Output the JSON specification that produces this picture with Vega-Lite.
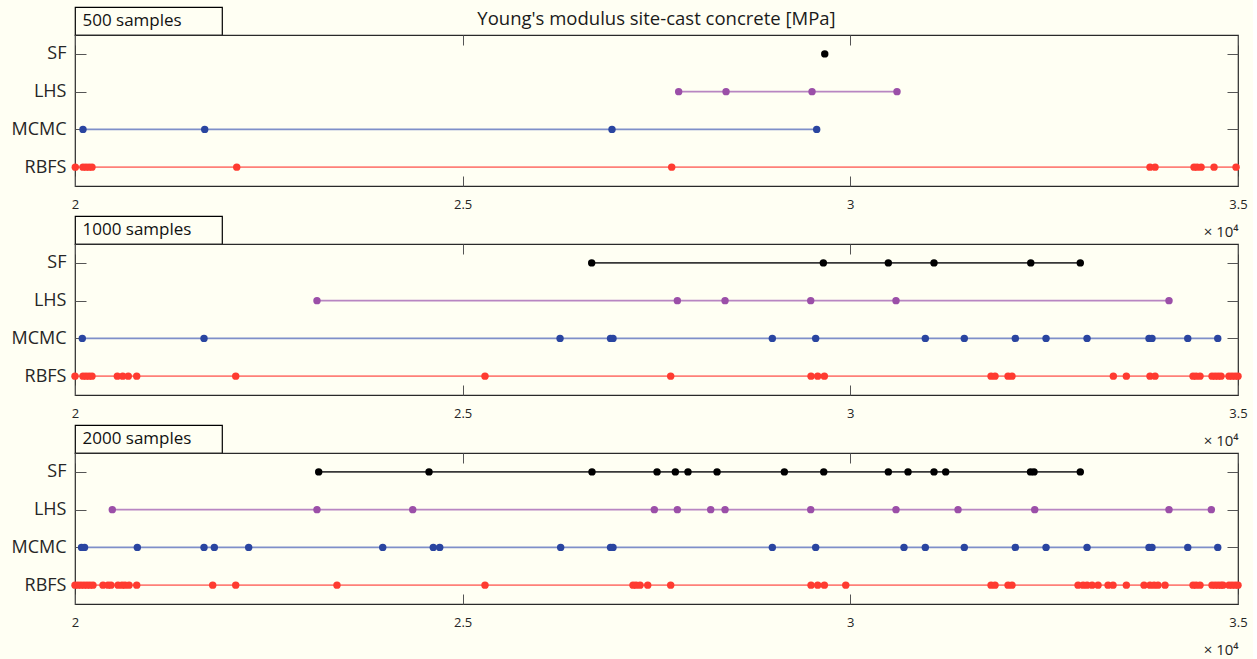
{
  "$schema": "https://vega.github.io/schema/vega-lite/v6.json",
  "background": "#fffff3",
  "padding": {"left": 10, "top": 6, "right": 5, "bottom": 2},
  "config": {
    "font": "Open Sans",
    "view": {"stroke": "#2a2a2a", "strokeWidth": 1.2},
    "axis": {"labelFont": "Open Sans", "titleFont": "Open Sans", "labelColor": "#262626", "titleColor": "#262626", "tickColor": "#555555", "grid": false, "domain": false}
  },
  "datasets": {
    "d": [
      {"n": 500, "m": "SF", "E": 29670},
      {"n": 500, "m": "LHS", "E": 27786}, {"n": 500, "m": "LHS", "E": 28397}, {"n": 500, "m": "LHS", "E": 29506}, {"n": 500, "m": "LHS", "E": 30602},
      {"n": 500, "m": "MCMC", "E": 20103}, {"n": 500, "m": "MCMC", "E": 21673}, {"n": 500, "m": "MCMC", "E": 26926}, {"n": 500, "m": "MCMC", "E": 29566},
      {"n": 500, "m": "RBFS", "E": 20004}, {"n": 500, "m": "RBFS", "E": 20103}, {"n": 500, "m": "RBFS", "E": 20142}, {"n": 500, "m": "RBFS", "E": 20181}, {"n": 500, "m": "RBFS", "E": 20219}, {"n": 500, "m": "RBFS", "E": 22086}, {"n": 500, "m": "RBFS", "E": 27696}, {"n": 500, "m": "RBFS", "E": 33865}, {"n": 500, "m": "RBFS", "E": 33930}, {"n": 500, "m": "RBFS", "E": 34433}, {"n": 500, "m": "RBFS", "E": 34472}, {"n": 500, "m": "RBFS", "E": 34524}, {"n": 500, "m": "RBFS", "E": 34691}, {"n": 500, "m": "RBFS", "E": 34975},

      {"n": 1000, "m": "SF", "E": 26664}, {"n": 1000, "m": "SF", "E": 29652}, {"n": 1000, "m": "SF", "E": 30490}, {"n": 1000, "m": "SF", "E": 31079}, {"n": 1000, "m": "SF", "E": 32327}, {"n": 1000, "m": "SF", "E": 32966},
      {"n": 1000, "m": "LHS", "E": 23121}, {"n": 1000, "m": "LHS", "E": 27769}, {"n": 1000, "m": "LHS", "E": 28384}, {"n": 1000, "m": "LHS", "E": 29489}, {"n": 1000, "m": "LHS", "E": 30589}, {"n": 1000, "m": "LHS", "E": 34110},
      {"n": 1000, "m": "MCMC", "E": 20094}, {"n": 1000, "m": "MCMC", "E": 21664}, {"n": 1000, "m": "MCMC", "E": 26256}, {"n": 1000, "m": "MCMC", "E": 26907}, {"n": 1000, "m": "MCMC", "E": 26939}, {"n": 1000, "m": "MCMC", "E": 28994}, {"n": 1000, "m": "MCMC", "E": 29553}, {"n": 1000, "m": "MCMC", "E": 30967}, {"n": 1000, "m": "MCMC", "E": 31470}, {"n": 1000, "m": "MCMC", "E": 32128}, {"n": 1000, "m": "MCMC", "E": 32524}, {"n": 1000, "m": "MCMC", "E": 33053}, {"n": 1000, "m": "MCMC", "E": 33852}, {"n": 1000, "m": "MCMC", "E": 33891}, {"n": 1000, "m": "MCMC", "E": 34352}, {"n": 1000, "m": "MCMC", "E": 34739},
      {"n": 1000, "m": "RBFS", "E": 20000}, {"n": 1000, "m": "RBFS", "E": 20103}, {"n": 1000, "m": "RBFS", "E": 20142}, {"n": 1000, "m": "RBFS", "E": 20181}, {"n": 1000, "m": "RBFS", "E": 20219}, {"n": 1000, "m": "RBFS", "E": 20546}, {"n": 1000, "m": "RBFS", "E": 20615}, {"n": 1000, "m": "RBFS", "E": 20687}, {"n": 1000, "m": "RBFS", "E": 20796}, {"n": 1000, "m": "RBFS", "E": 22073}, {"n": 1000, "m": "RBFS", "E": 25288}, {"n": 1000, "m": "RBFS", "E": 27683}, {"n": 1000, "m": "RBFS", "E": 29493}, {"n": 1000, "m": "RBFS", "E": 29579}, {"n": 1000, "m": "RBFS", "E": 29665}, {"n": 1000, "m": "RBFS", "E": 31815}, {"n": 1000, "m": "RBFS", "E": 31866}, {"n": 1000, "m": "RBFS", "E": 32034}, {"n": 1000, "m": "RBFS", "E": 32085}, {"n": 1000, "m": "RBFS", "E": 33392}, {"n": 1000, "m": "RBFS", "E": 33560}, {"n": 1000, "m": "RBFS", "E": 33865}, {"n": 1000, "m": "RBFS", "E": 33930}, {"n": 1000, "m": "RBFS", "E": 34420}, {"n": 1000, "m": "RBFS", "E": 34459}, {"n": 1000, "m": "RBFS", "E": 34510}, {"n": 1000, "m": "RBFS", "E": 34665}, {"n": 1000, "m": "RBFS", "E": 34704}, {"n": 1000, "m": "RBFS", "E": 34743}, {"n": 1000, "m": "RBFS", "E": 34781}, {"n": 1000, "m": "RBFS", "E": 34884}, {"n": 1000, "m": "RBFS", "E": 34923}, {"n": 1000, "m": "RBFS", "E": 34962}, {"n": 1000, "m": "RBFS", "E": 35000},

      {"n": 2000, "m": "SF", "E": 23143}, {"n": 2000, "m": "SF", "E": 24566}, {"n": 2000, "m": "SF", "E": 26668}, {"n": 2000, "m": "SF", "E": 27507}, {"n": 2000, "m": "SF", "E": 27743}, {"n": 2000, "m": "SF", "E": 27906}, {"n": 2000, "m": "SF", "E": 28281}, {"n": 2000, "m": "SF", "E": 29149}, {"n": 2000, "m": "SF", "E": 29657}, {"n": 2000, "m": "SF", "E": 30490}, {"n": 2000, "m": "SF", "E": 30744}, {"n": 2000, "m": "SF", "E": 31079}, {"n": 2000, "m": "SF", "E": 31230}, {"n": 2000, "m": "SF", "E": 32324}, {"n": 2000, "m": "SF", "E": 32369}, {"n": 2000, "m": "SF", "E": 32966},
      {"n": 2000, "m": "LHS", "E": 20481}, {"n": 2000, "m": "LHS", "E": 23121}, {"n": 2000, "m": "LHS", "E": 24356}, {"n": 2000, "m": "LHS", "E": 27472}, {"n": 2000, "m": "LHS", "E": 27769}, {"n": 2000, "m": "LHS", "E": 28199}, {"n": 2000, "m": "LHS", "E": 28384}, {"n": 2000, "m": "LHS", "E": 29489}, {"n": 2000, "m": "LHS", "E": 30589}, {"n": 2000, "m": "LHS", "E": 31389}, {"n": 2000, "m": "LHS", "E": 32378}, {"n": 2000, "m": "LHS", "E": 34110}, {"n": 2000, "m": "LHS", "E": 34656},
      {"n": 2000, "m": "MCMC", "E": 20084}, {"n": 2000, "m": "MCMC", "E": 20123}, {"n": 2000, "m": "MCMC", "E": 20804}, {"n": 2000, "m": "MCMC", "E": 21664}, {"n": 2000, "m": "MCMC", "E": 21797}, {"n": 2000, "m": "MCMC", "E": 22240}, {"n": 2000, "m": "MCMC", "E": 23969}, {"n": 2000, "m": "MCMC", "E": 24621}, {"n": 2000, "m": "MCMC", "E": 24704}, {"n": 2000, "m": "MCMC", "E": 26264}, {"n": 2000, "m": "MCMC", "E": 26907}, {"n": 2000, "m": "MCMC", "E": 26939}, {"n": 2000, "m": "MCMC", "E": 28994}, {"n": 2000, "m": "MCMC", "E": 29553}, {"n": 2000, "m": "MCMC", "E": 30692}, {"n": 2000, "m": "MCMC", "E": 30967}, {"n": 2000, "m": "MCMC", "E": 31470}, {"n": 2000, "m": "MCMC", "E": 32128}, {"n": 2000, "m": "MCMC", "E": 32524}, {"n": 2000, "m": "MCMC", "E": 33053}, {"n": 2000, "m": "MCMC", "E": 33852}, {"n": 2000, "m": "MCMC", "E": 33891}, {"n": 2000, "m": "MCMC", "E": 34352}, {"n": 2000, "m": "MCMC", "E": 34739},
      {"n": 2000, "m": "RBFS", "E": 20000}, {"n": 2000, "m": "RBFS", "E": 20039}, {"n": 2000, "m": "RBFS", "E": 20077}, {"n": 2000, "m": "RBFS", "E": 20116}, {"n": 2000, "m": "RBFS", "E": 20155}, {"n": 2000, "m": "RBFS", "E": 20193}, {"n": 2000, "m": "RBFS", "E": 20232}, {"n": 2000, "m": "RBFS", "E": 20361}, {"n": 2000, "m": "RBFS", "E": 20426}, {"n": 2000, "m": "RBFS", "E": 20464}, {"n": 2000, "m": "RBFS", "E": 20555}, {"n": 2000, "m": "RBFS", "E": 20606}, {"n": 2000, "m": "RBFS", "E": 20645}, {"n": 2000, "m": "RBFS", "E": 20697}, {"n": 2000, "m": "RBFS", "E": 20796}, {"n": 2000, "m": "RBFS", "E": 21776}, {"n": 2000, "m": "RBFS", "E": 22073}, {"n": 2000, "m": "RBFS", "E": 23379}, {"n": 2000, "m": "RBFS", "E": 25288}, {"n": 2000, "m": "RBFS", "E": 27197}, {"n": 2000, "m": "RBFS", "E": 27236}, {"n": 2000, "m": "RBFS", "E": 27288}, {"n": 2000, "m": "RBFS", "E": 27387}, {"n": 2000, "m": "RBFS", "E": 27683}, {"n": 2000, "m": "RBFS", "E": 29493}, {"n": 2000, "m": "RBFS", "E": 29579}, {"n": 2000, "m": "RBFS", "E": 29665}, {"n": 2000, "m": "RBFS", "E": 29941}, {"n": 2000, "m": "RBFS", "E": 31815}, {"n": 2000, "m": "RBFS", "E": 31866}, {"n": 2000, "m": "RBFS", "E": 32034}, {"n": 2000, "m": "RBFS", "E": 32085}, {"n": 2000, "m": "RBFS", "E": 32937}, {"n": 2000, "m": "RBFS", "E": 33002}, {"n": 2000, "m": "RBFS", "E": 33053}, {"n": 2000, "m": "RBFS", "E": 33118}, {"n": 2000, "m": "RBFS", "E": 33195}, {"n": 2000, "m": "RBFS", "E": 33324}, {"n": 2000, "m": "RBFS", "E": 33388}, {"n": 2000, "m": "RBFS", "E": 33560}, {"n": 2000, "m": "RBFS", "E": 33788}, {"n": 2000, "m": "RBFS", "E": 33865}, {"n": 2000, "m": "RBFS", "E": 33917}, {"n": 2000, "m": "RBFS", "E": 33968}, {"n": 2000, "m": "RBFS", "E": 34059}, {"n": 2000, "m": "RBFS", "E": 34420}, {"n": 2000, "m": "RBFS", "E": 34459}, {"n": 2000, "m": "RBFS", "E": 34510}, {"n": 2000, "m": "RBFS", "E": 34665}, {"n": 2000, "m": "RBFS", "E": 34704}, {"n": 2000, "m": "RBFS", "E": 34743}, {"n": 2000, "m": "RBFS", "E": 34781}, {"n": 2000, "m": "RBFS", "E": 34807}, {"n": 2000, "m": "RBFS", "E": 34884}, {"n": 2000, "m": "RBFS", "E": 34923}, {"n": 2000, "m": "RBFS", "E": 34962}, {"n": 2000, "m": "RBFS", "E": 35000}
    ]
  },
  "bounds": "flush",
  "spacing": 0,
  "vconcat": [
    {
      "width": 147, "height": 28,
      "view": {"stroke": "#000000", "strokeWidth": 1.2},
      "data": {"values": [{"label": "500 samples"}]},
      "mark": {"type": "text", "align": "left", "dx": -66, "fontSize": 17, "color": "#111111"},
      "encoding": {"text": {"field": "label"}}
    },
    {
      "width": 1163, "height": 151,
      "title": {"text": "Young's modulus site-cast concrete [MPa]", "fontSize": 18.5, "fontWeight": "normal", "color": "#1a1a1a", "offset": 6, "frame": "group", "anchor": "middle"},
      "data": {"name": "d"},
      "transform": [{"filter": "datum.n == 500"}],
      "layer": [
        {
          "mark": {"type": "line", "strokeWidth": 1.6},
          "encoding": {
            "x": {"field": "E", "type": "quantitative", "scale": {"domain": [20000, 35000], "nice": false, "zero": false},
                  "axis": {"orient": "bottom", "values": [20000, 25000, 30000, 35000], "labelExpr": "toString(datum.value/10000)", "tickSize": -10, "labelPadding": 22, "labelFontSize": 13, "labelFlush": false, "title": "× 10⁴", "titleAnchor": "end", "titleAlign": "right", "titleFontSize": 15, "titleFontWeight": "normal", "titlePadding": 13}},
            "y": {"field": "m", "type": "nominal", "scale": {"type": "point", "domain": ["SF", "LHS", "MCMC", "RBFS"], "padding": 0.5},
                  "axis": {"orient": "left", "tickSize": -11, "labelPadding": 20, "labelFontSize": 18, "title": null}},
            "stroke": {"field": "m", "type": "nominal", "scale": {"domain": ["SF", "LHS", "MCMC", "RBFS"], "range": ["#383838", "#b886c2", "#7f8fc9", "#ff8078"]}, "legend": null}
          }
        },
        {
          "mark": {"type": "circle", "size": 55, "opacity": 1},
          "encoding": {
            "x": {"field": "E", "type": "quantitative", "axis": {"orient": "top", "values": [20000, 25000, 30000, 35000], "labels": false, "tickSize": -10, "title": null}},
            "y": {"field": "m", "type": "nominal", "axis": {"orient": "right", "labels": false, "tickSize": -11, "title": null}},
            "fill": {"field": "m", "type": "nominal", "scale": {"domain": ["SF", "LHS", "MCMC", "RBFS"], "range": ["#000000", "#9b4fa8", "#2a45a0", "#ff3b30"]}, "legend": null}
          }
        }
      ],
      "resolve": {"axis": {"x": "independent", "y": "independent"}}
    },
    {
      "width": 147, "height": 29.5,
      "view": {"stroke": null},
      "data": {"values": [{"t": ""}]},
      "mark": {"type": "text"},
      "encoding": {"text": {"field": "t"}}
    },
    {
      "width": 147, "height": 28,
      "view": {"stroke": "#000000", "strokeWidth": 1.2},
      "data": {"values": [{"label": "1000 samples"}]},
      "mark": {"type": "text", "align": "left", "dx": -66, "fontSize": 17, "color": "#111111"},
      "encoding": {"text": {"field": "label"}}
    },
    {
      "width": 1163, "height": 151,
      "data": {"name": "d"},
      "transform": [{"filter": "datum.n == 1000"}],
      "layer": [
        {
          "mark": {"type": "line", "strokeWidth": 1.6},
          "encoding": {
            "x": {"field": "E", "type": "quantitative", "scale": {"domain": [20000, 35000], "nice": false, "zero": false},
                  "axis": {"orient": "bottom", "values": [20000, 25000, 30000, 35000], "labelExpr": "toString(datum.value/10000)", "tickSize": -10, "labelPadding": 22, "labelFontSize": 13, "labelFlush": false, "title": "× 10⁴", "titleAnchor": "end", "titleAlign": "right", "titleFontSize": 15, "titleFontWeight": "normal", "titlePadding": 13}},
            "y": {"field": "m", "type": "nominal", "scale": {"type": "point", "domain": ["SF", "LHS", "MCMC", "RBFS"], "padding": 0.5},
                  "axis": {"orient": "left", "tickSize": -11, "labelPadding": 20, "labelFontSize": 18, "title": null}},
            "stroke": {"field": "m", "type": "nominal", "scale": {"domain": ["SF", "LHS", "MCMC", "RBFS"], "range": ["#383838", "#b886c2", "#7f8fc9", "#ff8078"]}, "legend": null}
          }
        },
        {
          "mark": {"type": "circle", "size": 55, "opacity": 1},
          "encoding": {
            "x": {"field": "E", "type": "quantitative", "axis": {"orient": "top", "values": [20000, 25000, 30000, 35000], "labels": false, "tickSize": -10, "title": null}},
            "y": {"field": "m", "type": "nominal", "axis": {"orient": "right", "labels": false, "tickSize": -11, "title": null}},
            "fill": {"field": "m", "type": "nominal", "scale": {"domain": ["SF", "LHS", "MCMC", "RBFS"], "range": ["#000000", "#9b4fa8", "#2a45a0", "#ff3b30"]}, "legend": null}
          }
        }
      ],
      "resolve": {"axis": {"x": "independent", "y": "independent"}}
    },
    {
      "width": 147, "height": 29.5,
      "view": {"stroke": null},
      "data": {"values": [{"t": ""}]},
      "mark": {"type": "text"},
      "encoding": {"text": {"field": "t"}}
    },
    {
      "width": 147, "height": 28,
      "view": {"stroke": "#000000", "strokeWidth": 1.2},
      "data": {"values": [{"label": "2000 samples"}]},
      "mark": {"type": "text", "align": "left", "dx": -66, "fontSize": 17, "color": "#111111"},
      "encoding": {"text": {"field": "label"}}
    },
    {
      "width": 1163, "height": 151,
      "data": {"name": "d"},
      "transform": [{"filter": "datum.n == 2000"}],
      "layer": [
        {
          "mark": {"type": "line", "strokeWidth": 1.6},
          "encoding": {
            "x": {"field": "E", "type": "quantitative", "scale": {"domain": [20000, 35000], "nice": false, "zero": false},
                  "axis": {"orient": "bottom", "values": [20000, 25000, 30000, 35000], "labelExpr": "toString(datum.value/10000)", "tickSize": -10, "labelPadding": 22, "labelFontSize": 13, "labelFlush": false, "title": "× 10⁴", "titleAnchor": "end", "titleAlign": "right", "titleFontSize": 15, "titleFontWeight": "normal", "titlePadding": 13}},
            "y": {"field": "m", "type": "nominal", "scale": {"type": "point", "domain": ["SF", "LHS", "MCMC", "RBFS"], "padding": 0.5},
                  "axis": {"orient": "left", "tickSize": -11, "labelPadding": 20, "labelFontSize": 18, "title": null}},
            "stroke": {"field": "m", "type": "nominal", "scale": {"domain": ["SF", "LHS", "MCMC", "RBFS"], "range": ["#383838", "#b886c2", "#7f8fc9", "#ff8078"]}, "legend": null}
          }
        },
        {
          "mark": {"type": "circle", "size": 55, "opacity": 1},
          "encoding": {
            "x": {"field": "E", "type": "quantitative", "axis": {"orient": "top", "values": [20000, 25000, 30000, 35000], "labels": false, "tickSize": -10, "title": null}},
            "y": {"field": "m", "type": "nominal", "axis": {"orient": "right", "labels": false, "tickSize": -11, "title": null}},
            "fill": {"field": "m", "type": "nominal", "scale": {"domain": ["SF", "LHS", "MCMC", "RBFS"], "range": ["#000000", "#9b4fa8", "#2a45a0", "#ff3b30"]}, "legend": null}
          }
        }
      ],
      "resolve": {"axis": {"x": "independent", "y": "independent"}}
    }
  ]
}
